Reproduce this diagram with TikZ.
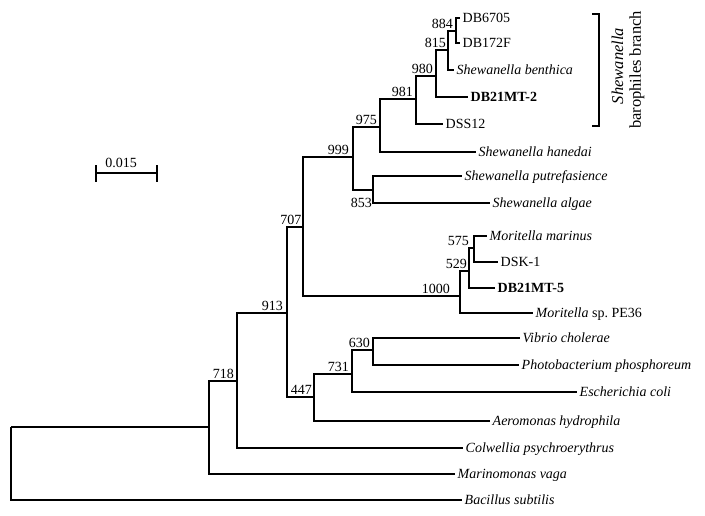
\documentclass[tikz,border=0pt]{standalone}
\usepackage{fontspec}
\setmainfont{Liberation Serif}
\usetikzlibrary{calc}
\begin{document}
\begin{tikzpicture}[x=1pt,y=-1pt,
  br/.style={line width=1.6pt, line join=miter},
  leaf/.style={anchor=west, inner xsep=2.5pt, inner ysep=0pt, text height=9.5pt, text depth=0pt, font=\fontsize{14}{16}\selectfont},
  bs/.style={anchor=south east, inner sep=0pt, font=\fontsize{14}{16}\selectfont, xshift=-3pt, yshift=2pt},
  bigtxt/.style={rotate=90, inner sep=0pt, font=\fontsize{16.5}{19}\selectfont}]
\fill[white] (0,0) rectangle (705,515);
\useasboundingbox (0,0) rectangle (705,515);
% internal nodes
\coordinate (root) at (11,427);
\coordinate (nmv) at (209,427);
\coordinate (n718) at (237,381);
\coordinate (n913) at (287,313);
\coordinate (n707) at (303,227);
\coordinate (n999) at (353,157);
\coordinate (n975) at (380,127);
\coordinate (n981) at (416,99);
\coordinate (n980) at (436,76);
\coordinate (n815) at (448,50);
\coordinate (n884) at (456,31);
\coordinate (n853) at (373,190);
\coordinate (n1000) at (460,296);
\coordinate (n529) at (469,271);
\coordinate (n575) at (474,248);
\coordinate (n447) at (314,397);
\coordinate (n731) at (352,374);
\coordinate (n630) at (373,350);
% leaves
\node[leaf] (db6705) at (460,18) {DB6705};
\node[leaf] (db172) at (460,43) {DB172F};
\node[leaf] (benth) at (454,70) {\textit{Shewanella benthica}};
\node[leaf] (db2) at (468,97) {\textbf{DB21MT-2}};
\node[leaf] (dss) at (443,124) {DSS12};
\node[leaf] (hane) at (476,152) {\textit{Shewanella hanedai}};
\node[leaf] (putr) at (462,176) {\textit{Shewanella putrefasience}};
\node[leaf] (alg) at (490,203) {\textit{Shewanella algae}};
\node[leaf] (mmar) at (487,236) {\textit{Moritella marinus}};
\node[leaf] (dsk) at (498,262) {DSK-1};
\node[leaf] (db5) at (495,288) {\textbf{DB21MT-5}};
\node[leaf] (pe36) at (533,313) {\textit{Moritella} sp.\ PE36};
\node[leaf] (vib) at (520,338) {\textit{Vibrio cholerae}};
\node[leaf] (phot) at (519,365) {\textit{Photobacterium phosphoreum}};
\node[leaf] (ecol) at (577,392) {\textit{Escherichia coli}};
\node[leaf] (aero) at (490,421) {\textit{Aeromonas hydrophila}};
\node[leaf] (colw) at (463,448) {\textit{Colwellia psychroerythrus}};
\node[leaf] (mari) at (455,474) {\textit{Marinomonas vaga}};
\node[leaf] (baci) at (462,500) {\textit{Bacillus subtilis}};
% branches
\draw[br] (root) -- (nmv);
\draw[br] (root) |- (baci.west);
\draw[br] (nmv) |- (n718);
\draw[br] (nmv) |- (mari.west);
\draw[br] (n718) |- (n913);
\draw[br] (n718) |- (colw.west);
\draw[br] (n913) |- (n707);
\draw[br] (n913) |- (n447);
\draw[br] (n707) |- (n999);
\draw[br] (n707) |- (n1000);
\draw[br] (n999) |- (n975);
\draw[br] (n999) |- (n853);
\draw[br] (n975) |- (n981);
\draw[br] (n975) |- (hane.west);
\draw[br] (n981) |- (n980);
\draw[br] (n981) |- (dss.west);
\draw[br] (n980) |- (n815);
\draw[br] (n980) |- (db2.west);
\draw[br] (n815) |- (n884);
\draw[br] (n815) |- (benth.west);
\draw[br] (n884) |- (db6705.west);
\draw[br] (n884) |- (db172.west);
\draw[br] (n853) |- (putr.west);
\draw[br] (n853) |- (alg.west);
\draw[br] (n1000) |- (n529);
\draw[br] (n1000) |- (pe36.west);
\draw[br] (n529) |- (n575);
\draw[br] (n529) |- (db5.west);
\draw[br] (n575) |- (mmar.west);
\draw[br] (n575) |- (dsk.west);
\draw[br] (n447) |- (n731);
\draw[br] (n447) |- (aero.west);
\draw[br] (n731) |- (n630);
\draw[br] (n731) |- (ecol.west);
\draw[br] (n630) |- (vib.west);
\draw[br] (n630) |- (phot.west);
% bootstrap labels
\node[bs] (b884) at (n884) {884};
\node[bs,xshift=1pt] (b815) at (n815) {815};
\node[bs] (b980) at (n980) {980};
\node[bs] (b981) at (n981) {981};
\node[bs] (b975) at (n975) {975};
\node[bs,xshift=-1pt] (b999) at (n999) {999};
\node[anchor=north east, inner sep=0pt, font=\fontsize{14}{16}\selectfont, xshift=-1pt, yshift=-8pt] (b853) at (n853) {853};
\node[bs,xshift=1.5pt] (b707) at (n707) {707};
\node[bs,xshift=-7pt] (b1000) at (n1000) {1000};
\node[bs,xshift=1pt] (b529) at (n529) {529};
\node[bs,xshift=-2pt] (b575) at (n575) {575};
\node[bs] (b630) at (n630) {630};
\node[bs] (b731) at (n731) {731};
\node[bs,xshift=1pt] (b447) at (n447) {447};
\node[bs,xshift=-1pt] (b913) at (n913) {913};
\node[bs] (b718) at (n718) {718};
% bracket
\coordinate (bt) at (592,14);
\coordinate (bb) at (592,126);
\draw[br] (bt) -- ++(7,0) |- (bb);
\node[bigtxt] (shew) at (617.5,66) {\textit{Shewanella}};
\node[bigtxt] (baro) at (637,70) {barophiles branch};
% scale bar
\coordinate (sa) at (96,173);
\coordinate (sb) at (157,173);
\draw[br] (sa) -- (sb);
\draw[line width=2pt] ($(sa)+(0,-8)$) -- ($(sa)+(0,9)$);
\draw[line width=2pt] ($(sb)+(0,-8)$) -- ($(sb)+(0,9)$);
\node[inner sep=0pt, font=\fontsize{14}{16}\selectfont] (scl) at (121,163) {0.015};
\end{tikzpicture}
\end{document}
